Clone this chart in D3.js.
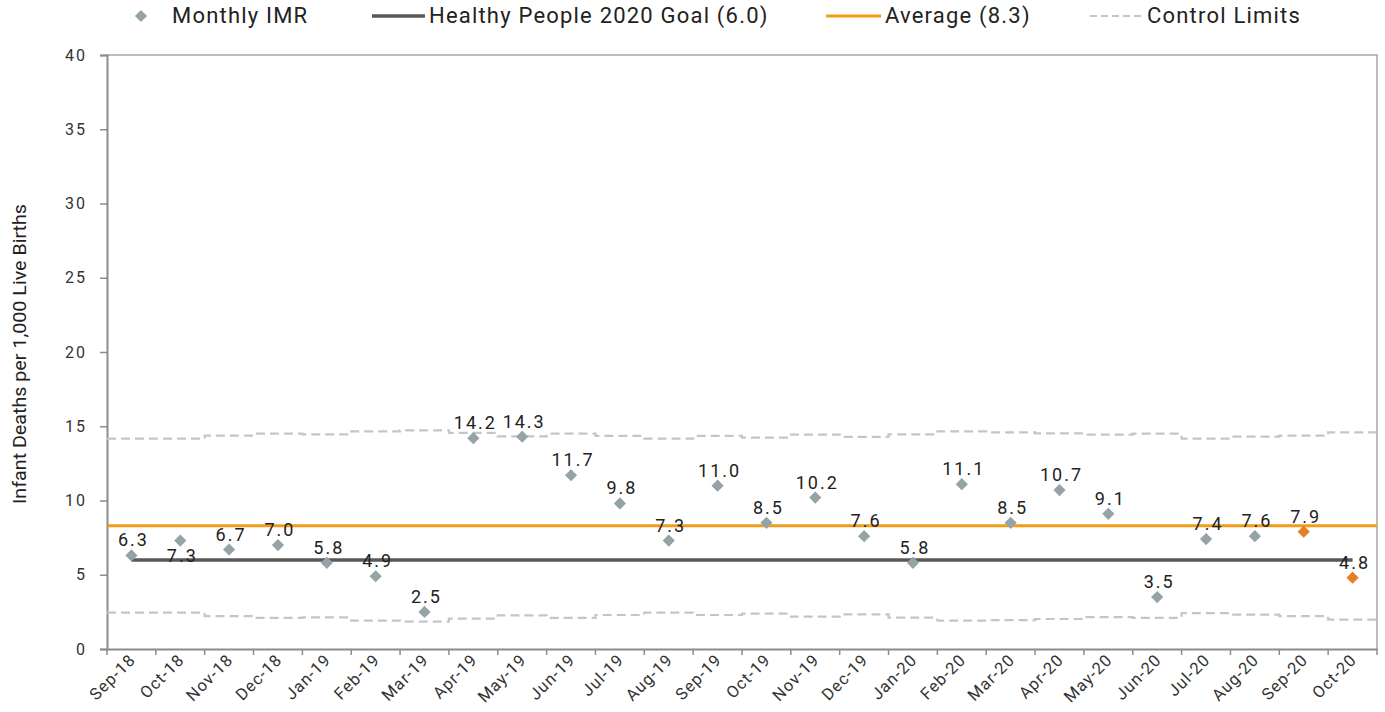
<!DOCTYPE html>
<html>
<head>
<meta charset="utf-8">
<script src="https://cdn.jsdelivr.net/npm/d3@7"></script>
<style>
  body { margin: 0; background: #fff; }
  svg { display: block; }
</style>
</head>
<body>
<script>
const W = 1385;
const H = 712;

const months = ["Sep-18", "Oct-18", "Nov-18", "Dec-18", "Jan-19", "Feb-19", "Mar-19", "Apr-19",
  "May-19", "Jun-19", "Jul-19", "Aug-19", "Sep-19", "Oct-19", "Nov-19", "Dec-19", "Jan-20",
  "Feb-20", "Mar-20", "Apr-20", "May-20", "Jun-20", "Jul-20", "Aug-20", "Sep-20", "Oct-20"];
const imr = [6.3, 7.3, 6.7, 7.0, 5.8, 4.9, 2.5, 14.2, 14.3, 11.7, 9.8, 7.3, 11.0, 8.5, 10.2, 7.6,
  5.8, 11.1, 8.5, 10.7, 9.1, 3.5, 7.4, 7.6, 7.9, 4.8];
const provisional = ["Sep-20", "Oct-20"];
const upperLimit = [14.16, 14.16, 14.37, 14.5, 14.45, 14.65, 14.72, 14.55, 14.32, 14.5, 14.35, 14.16,
  14.35, 14.23, 14.43, 14.28, 14.45, 14.66, 14.59, 14.52, 14.43, 14.5, 14.16, 14.3, 14.37, 14.59];
const lowerLimit = [2.45, 2.45, 2.22, 2.09, 2.13, 1.91, 1.84, 2.04, 2.27, 2.09, 2.29, 2.45, 2.29,
  2.38, 2.18, 2.33, 2.11, 1.91, 1.95, 2.02, 2.15, 2.09, 2.42, 2.31, 2.22, 1.98];
const goal = 6.0;
const average = 8.3;
const yTicks = [0, 5, 10, 15, 20, 25, 30, 35, 40];
const labelBelow = ["Oct-18"];

const margin = { top: 55, left: 107, right: 8, bottom: 63 };
const x0 = margin.left, x1 = W - margin.right;
const yTop = margin.top, yBot = H - margin.bottom;

const x = d3.scaleBand().domain(months).range([x0, x1]);
const y = d3.scaleLinear().domain([0, 40]).range([yBot, yTop]);
const cx = m => x(m) + x.bandwidth() / 2;

const svg = d3.select("body").append("svg")
  .attr("width", W)
  .attr("height", H);

// frame (top and right)
svg.append("path")
  .attr("d", `M${x0},${yTop}H${x1}V${yBot}`)
  .attr("fill", "none")
  .attr("stroke", "#a6a6a6")
  .attr("stroke-width", 1.5);

// axes
const yAxis = svg.append("g")
  .attr("transform", `translate(${x0},0)`)
  .call(d3.axisLeft(y).tickValues(yTicks).tickSize(7).tickPadding(13));
yAxis.select(".domain").attr("stroke", "#8c8c8c").attr("stroke-width", 2);
yAxis.selectAll(".tick line").attr("stroke", "#8c8c8c").attr("stroke-width", 1.5);
yAxis.selectAll(".tick text")
  .attr("fill", "#333")
  .style("font-family", "Roboto, sans-serif")
  .style("font-size", "16px")
  .style("letter-spacing", "2px");

const xAxis = svg.append("g")
  .attr("transform", `translate(0,${yBot})`)
  .call(d3.axisBottom(x).tickSize(0).tickFormat(""));
xAxis.select(".domain").attr("stroke", "#8c8c8c").attr("stroke-width", 2);

// tick marks at band boundaries
svg.append("g").selectAll("line")
  .data(months.concat(["end"]))
  .enter().append("line")
  .attr("x1", (m, i) => i < months.length ? x(m) : x1)
  .attr("x2", (m, i) => i < months.length ? x(m) : x1)
  .attr("y1", yBot)
  .attr("y2", yBot + 6)
  .attr("stroke", "#8c8c8c")
  .attr("stroke-width", 1.5);

svg.append("g").selectAll("text")
  .data(months)
  .enter().append("text")
  .attr("transform", m => `translate(${cx(m) + 5},${yBot + 12}) rotate(-45)`)
  .attr("text-anchor", "end")
  .attr("fill", "#333")
  .style("font-family", "Roboto, sans-serif")
  .style("font-size", "16.5px")
  .style("letter-spacing", "1px")
  .text(m => m);

// axis title
svg.append("text")
  .attr("transform", `translate(26,354) rotate(-90)`)
  .attr("text-anchor", "middle")
  .attr("fill", "#222")
  .attr("textLength", 300)
  .attr("lengthAdjust", "spacingAndGlyphs")
  .style("font-family", "'Liberation Sans Narrow', Roboto, sans-serif")
  .style("font-size", "18px")
  .text("Infant Deaths per 1,000 Live Births");

// control limits as steps
function stepPath(vals) {
  let d = "";
  months.forEach((m, i) => {
    const yy = y(vals[i]);
    d += (i === 0 ? "M" : "L") + x(m) + "," + yy + "H" + (x(m) + x.bandwidth());
  });
  return d;
}
[upperLimit, lowerLimit].forEach(vals => {
  svg.append("path")
    .attr("d", stepPath(vals))
    .attr("fill", "none")
    .attr("stroke", "#c3c6c8")
    .attr("stroke-width", 2.2)
    .attr("stroke-dasharray", "9,5");
});

// average line
svg.append("line")
  .attr("x1", x0 + 1).attr("x2", x1)
  .attr("y1", y(average)).attr("y2", y(average))
  .attr("stroke", "#f39c1a")
  .attr("stroke-width", 3);

// goal line
svg.append("line")
  .attr("x1", cx(months[0])).attr("x2", cx(months[months.length - 1]))
  .attr("y1", y(goal)).attr("y2", y(goal))
  .attr("stroke", "#595959")
  .attr("stroke-width", 3.5);

// points
const diamond = d3.symbol().type(d3.symbolDiamond2).size(95);
svg.append("g").selectAll("path")
  .data(months)
  .enter().append("path")
  .attr("d", diamond)
  .attr("transform", (m, i) => `translate(${cx(m)},${y(imr[i])})`)
  .attr("fill", m => provisional.includes(m) ? "#e57f27" : "#95a3a6");

// data labels
svg.append("g").selectAll("text")
  .data(months)
  .enter().append("text")
  .attr("x", m => cx(m) + 2)
  .attr("y", (m, i) => y(imr[i]) + (labelBelow.includes(m) ? 21 : -9))
  .attr("text-anchor", "middle")
  .attr("fill", "#222")
  .style("font-family", "Roboto, sans-serif")
  .style("font-size", "18px")
  .style("letter-spacing", "2px")
  .text((m, i) => imr[i].toFixed(1));

// legend
const leg = svg.append("g")
  .style("font-family", "Roboto, sans-serif")
  .style("font-size", "22px")
  .style("letter-spacing", "1.2px");
leg.append("path")
  .attr("d", diamond)
  .attr("transform", "translate(141,16)")
  .attr("fill", "#95a3a6");
leg.append("text").attr("x", 172).attr("y", 23).attr("fill", "#222").text("Monthly IMR");
leg.append("line").attr("x1", 372).attr("x2", 425).attr("y1", 16).attr("y2", 16)
  .attr("stroke", "#595959").attr("stroke-width", 3.5);
leg.append("text").attr("x", 429).attr("y", 23).attr("fill", "#222").text("Healthy People 2020 Goal (6.0)");
leg.append("line").attr("x1", 826).attr("x2", 881).attr("y1", 16).attr("y2", 16)
  .attr("stroke", "#f39c1a").attr("stroke-width", 3);
leg.append("text").attr("x", 885).attr("y", 23).attr("fill", "#222").text("Average (8.3)");
leg.append("line").attr("x1", 1090).attr("x2", 1143).attr("y1", 16).attr("y2", 16)
  .attr("stroke", "#c3c6c8").attr("stroke-width", 2.2).attr("stroke-dasharray", "7,4");
leg.append("text").attr("x", 1147).attr("y", 23).attr("fill", "#222").text("Control Limits");
</script>
</body>
</html>
